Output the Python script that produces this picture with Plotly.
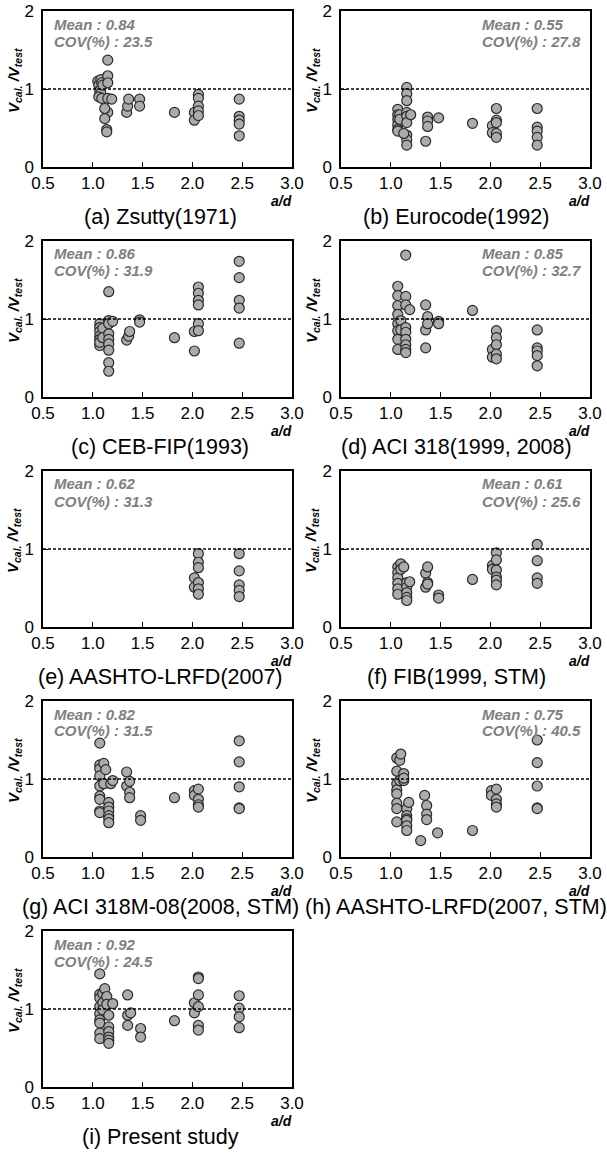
import plotly.graph_objects as go

# ---------------- data (a/d , Vcal/Vtest) ----------------
x_a = [1.05, 1.06, 1.07, 1.07, 1.08, 1.08, 1.09, 1.10, 1.06, 1.09,
       1.15, 1.15, 1.15, 1.15, 1.15, 1.14, 1.14, 1.12, 1.12, 1.19,
       1.34, 1.35, 1.36, 1.47, 1.47, 1.82,
       2.02, 2.02, 2.06, 2.06, 2.06, 2.06, 2.06,
       2.47, 2.47, 2.47, 2.47, 2.47]
y_a = [1.10, 1.05, 0.98, 0.92, 0.95, 1.12, 1.08, 1.05, 0.90, 0.88,
       1.37, 1.17, 1.08, 0.88, 0.70, 0.48, 0.45, 0.75, 0.62, 0.87,
       0.70, 0.78, 0.87, 0.87, 0.78, 0.70,
       0.70, 0.60, 0.93, 0.88, 0.78, 0.72, 0.66,
       0.87, 0.65, 0.60, 0.55, 0.40]

x_b = [1.07, 1.07, 1.07, 1.07, 1.07, 1.07, 1.09, 1.09,
       1.16, 1.16, 1.16, 1.16, 1.16, 1.16, 1.16, 1.16, 1.16, 1.20, 1.13,
       1.35, 1.37, 1.37, 1.37, 1.48, 1.82,
       2.02, 2.02, 2.06, 2.06, 2.06, 2.06, 2.06,
       2.47, 2.47, 2.47, 2.47, 2.47]
y_b = [0.74, 0.67, 0.61, 0.54, 0.48, 0.46, 0.67, 0.61,
       1.02, 0.94, 0.85, 0.70, 0.65, 0.57, 0.41, 0.35, 0.28, 0.67, 0.43,
       0.33, 0.64, 0.59, 0.52, 0.63, 0.56,
       0.53, 0.44, 0.75, 0.60, 0.57, 0.43, 0.38,
       0.75, 0.51, 0.46, 0.38, 0.28]

x_c = [1.07, 1.07, 1.07, 1.07, 1.07, 1.07, 1.07, 1.10, 1.10,
       1.16, 1.16, 1.16, 1.16, 1.16, 1.16, 1.16, 1.16, 1.16, 1.20,
       1.34, 1.36, 1.37, 1.47, 1.47, 1.82,
       2.02, 2.02, 2.06, 2.06, 2.06, 2.06, 2.06, 2.06,
       2.47, 2.47, 2.47, 2.47, 2.47]
y_c = [0.94, 0.89, 0.84, 0.78, 0.74, 0.66, 0.70, 0.88, 0.76,
       1.35, 0.98, 0.94, 0.81, 0.74, 0.68, 0.60, 0.44, 0.33, 0.97,
       0.73, 0.78, 0.84, 0.99, 0.96, 0.76,
       0.84, 0.59, 1.41, 1.33, 1.24, 1.18, 0.94, 0.85,
       1.74, 1.53, 1.24, 1.14, 0.69]

x_d = [1.07, 1.07, 1.07, 1.07, 1.07, 1.07, 1.07, 1.07, 1.10, 1.10,
       1.15, 1.15, 1.15, 1.15, 1.15, 1.15, 1.15, 1.15, 1.15, 1.19,
       1.35, 1.35, 1.35, 1.37, 1.37, 1.48, 1.48, 1.82,
       2.02, 2.02, 2.06, 2.06, 2.06, 2.06, 2.06,
       2.47, 2.47, 2.47, 2.47, 2.47]
y_d = [1.42, 1.30, 1.17, 1.06, 0.94, 0.85, 0.74, 0.61, 0.98, 0.86,
       1.82, 1.29, 1.18, 0.89, 0.83, 0.74, 0.67, 0.61, 0.57, 1.12,
       1.18, 0.86, 0.63, 1.03, 0.94, 0.97, 0.94, 1.11,
       0.61, 0.51, 0.85, 0.76, 0.67, 0.55, 0.49,
       0.86, 0.63, 0.59, 0.53, 0.40]

x_e = [2.02, 2.02, 2.06, 2.06, 2.06, 2.06, 2.06, 2.06,
       2.47, 2.47, 2.47, 2.47, 2.47]
y_e = [0.63, 0.51, 0.94, 0.83, 0.76, 0.57, 0.49, 0.42,
       0.94, 0.72, 0.54, 0.47, 0.39]

x_f = [1.07, 1.07, 1.07, 1.07, 1.07, 1.07, 1.10, 1.10, 1.13,
       1.16, 1.16, 1.16, 1.16, 1.16, 1.19,
       1.35, 1.35, 1.37, 1.37, 1.37, 1.48, 1.48, 1.82,
       2.02, 2.02, 2.06, 2.06, 2.06, 2.06, 2.06, 2.06,
       2.47, 2.47, 2.47, 2.47]
y_f = [0.77, 0.70, 0.63, 0.56, 0.49, 0.42, 0.81, 0.74, 0.77,
       0.57, 0.51, 0.44, 0.38, 0.34, 0.58,
       0.69, 0.51, 0.77, 0.57, 0.55, 0.41, 0.37, 0.61,
       0.79, 0.74, 0.95, 0.86, 0.73, 0.64, 0.60, 0.54,
       1.06, 0.85, 0.63, 0.56]

x_g = [1.07, 1.07, 1.07, 1.07, 1.07, 1.07, 1.07, 1.07, 1.07,
       1.11, 1.11, 1.13,
       1.16, 1.16, 1.16, 1.16, 1.16, 1.16, 1.18, 1.20,
       1.34, 1.34, 1.37, 1.37, 1.37, 1.48, 1.48, 1.82,
       2.02, 2.02, 2.06, 2.06, 2.06, 2.06,
       2.47, 2.47, 2.47, 2.47, 2.47]
y_g = [1.46, 1.18, 1.13, 1.04, 0.91, 0.78, 0.74, 0.59, 0.57,
       1.20, 0.94, 1.12,
       0.70, 0.64, 0.59, 0.53, 0.49, 0.44, 0.94, 0.98,
       1.09, 0.91, 0.97, 0.83, 0.76, 0.53, 0.47, 0.76,
       0.85, 0.79, 0.87, 0.74, 0.67, 0.64,
       1.49, 1.22, 0.90, 0.63, 0.62]

x_h = [1.06, 1.06, 1.06, 1.06, 1.06, 1.06, 1.06, 1.06,
       1.09, 1.09, 1.10, 1.13, 1.13, 1.13,
       1.16, 1.16, 1.16, 1.16, 1.16, 1.16, 1.18,
       1.30, 1.34, 1.36, 1.36, 1.36, 1.47, 1.82,
       2.01, 2.01, 2.06, 2.06, 2.06, 2.06,
       2.47, 2.47, 2.47, 2.47, 2.47]
y_h = [1.27, 1.10, 0.94, 0.86, 0.81, 0.69, 0.62, 0.45,
       1.24, 0.98, 1.32, 1.07, 0.98, 1.01,
       0.62, 0.53, 0.49, 0.47, 0.40, 0.34, 0.70,
       0.21, 0.79, 0.66, 0.55, 0.48, 0.31, 0.34,
       0.85, 0.79, 0.87, 0.74, 0.68, 0.64,
       1.50, 1.21, 0.91, 0.63, 0.62]

x_i = [1.07, 1.07, 1.07, 1.07, 1.07, 1.07, 1.07, 1.07, 1.07,
       1.10, 1.10, 1.10, 1.12, 1.14, 1.14,
       1.16, 1.16, 1.16, 1.16, 1.16, 1.16, 1.20,
       1.35, 1.35, 1.35, 1.38, 1.48, 1.48, 1.82,
       2.02, 2.02, 2.06, 2.06, 2.06, 2.06, 2.06, 2.06,
       2.47, 2.47, 2.47, 2.47]
y_i = [1.45, 1.19, 1.14, 1.03, 0.94, 0.86, 0.82, 0.69, 0.62,
       1.20, 1.08, 0.99, 1.26, 1.16, 1.06,
       0.92, 0.77, 0.71, 0.64, 0.60, 0.56, 1.07,
       1.18, 0.92, 0.79, 0.95, 0.75, 0.64, 0.85,
       1.08, 0.95, 1.41, 1.39, 1.18, 1.03, 0.79, 0.73,
       1.17, 1.01, 0.90, 0.76]

captions = ["(a) Zsutty(1971)", "(b) Eurocode(1992)", "(c) CEB-FIP(1993)",
            "(d) ACI 318(1999, 2008)", "(e) AASHTO-LRFD(2007)", "(f) FIB(1999, STM)",
            "(g) ACI 318M-08(2008, STM)", "(h) AASHTO-LRFD(2007, STM)", "(i) Present study"]
means = ["0.84", "0.55", "0.86", "0.85", "0.62", "0.61", "0.82", "0.75", "0.92"]
covs = ["23.5", "27.8", "31.9", "32.7", "31.3", "25.6", "31.5", "40.5", "24.5"]
x_ticks = [0.5, 1.0, 1.5, 2.0, 2.5, 3.0]
y_ticks = [0, 1, 2]

xs = [x_a, x_b, x_c, x_d, x_e, x_f, x_g, x_h, x_i]
ys = [y_a, y_b, y_c, y_d, y_e, y_f, y_g, y_h, y_i]

# ---------------- layout ----------------
W, H = 607, 1153
FONT = "Arial, Liberation Sans, sans-serif"
col_px = [(43, 292), (341, 590)]          # page pixels
row_px = [(11, 167), (241, 397), (471, 627), (701, 857), (931, 1087)]
cap_cx = [160, 456]


def px(v):
    return v / W


def py(v):
    return 1 - v / H


fig = go.Figure()
annotations = []
shapes = []

for k in range(9):
    r, c = divmod(k, 2)
    n = k + 1
    xa = "x" if n == 1 else f"x{n}"
    ya = "y" if n == 1 else f"y{n}"
    x0, x1 = col_px[c]
    t, b = row_px[r]
    fig.add_trace(go.Scatter(
        x=xs[k], y=ys[k], mode="markers", xaxis=xa, yaxis=ya,
        marker=dict(size=10, color="#ababab", line=dict(color="#2b2b2b", width=1.2)),
        showlegend=False, hoverinfo="x+y"))
    axcommon = dict(showline=True, mirror=True, linecolor="black", linewidth=1.5,
                    showgrid=False, zeroline=False, ticks="inside", ticklen=5,
                    tickcolor="black", automargin=False,
                    tickfont=dict(family=FONT, size=17, color="black"))
    fig.layout[("xaxis" if n == 1 else f"xaxis{n}")] = dict(
        domain=[px(x0), px(x1)], anchor=ya, range=[0.5, 3.0],
        tickvals=x_ticks, ticktext=[f"{v:.1f}" for v in x_ticks], **axcommon)
    fig.layout[("yaxis" if n == 1 else f"yaxis{n}")] = dict(
        domain=[py(b), py(t)], anchor=xa, range=[0, 2],
        tickvals=y_ticks, ticklabelstandoff=4, **axcommon)
    # dashed reference line at 1
    shapes.append(dict(type="line", xref=f"{xa} domain", yref=ya, x0=0, x1=1, y0=1, y1=1,
                       line=dict(color="black", width=1.5, dash="3px,2px")))
    # stats text
    sx = px(x0 + 9) if c == 0 else px(x0 + 139)
    annotations.append(dict(xref="paper", yref="paper", x=sx, y=py(t + 13),
                            xanchor="left", yanchor="middle", showarrow=False,
                            text=f"<b><i>Mean : {means[k]}</i></b>",
                            font=dict(family=FONT, size=15, color="#7f7f7f")))
    annotations.append(dict(xref="paper", yref="paper", x=sx, y=py(t + 30),
                            xanchor="left", yanchor="middle", showarrow=False,
                            text=f"<b><i>COV(%) : {covs[k]}</i></b>",
                            font=dict(family=FONT, size=15, color="#7f7f7f")))
    # y axis title
    annotations.append(dict(xref="paper", yref="paper", x=px(x0 - 29), y=py((t + b) / 2 - 8),
                            xanchor="center", yanchor="middle", showarrow=False, textangle=-90,
                            text="<b><i>V<sub>cal.</sub> /V<sub>test</sub></i></b>",
                            font=dict(family=FONT, size=15, color="black")))
    # x axis title
    annotations.append(dict(xref="paper", yref="paper", x=px(x1 + 2), y=py(b + 34),
                            xanchor="right", yanchor="middle", showarrow=False,
                            text="<b><i>a/d</i></b>",
                            font=dict(family=FONT, size=14, color="black")))
    # caption
    annotations.append(dict(xref="paper", yref="paper", x=px(cap_cx[c]), y=py(b + 50),
                            xanchor="center", yanchor="middle", showarrow=False,
                            text=captions[k],
                            font=dict(family=FONT, size=21.5, color="black")))

fig.update_layout(width=W, height=H, margin=dict(l=0, r=0, t=0, b=0),
                  paper_bgcolor="white", plot_bgcolor="white",
                  annotations=annotations, shapes=shapes)
fig.write_html("out.html", config={"displayModeBar": False},
               post_script="document.body.style.margin='0px';")
